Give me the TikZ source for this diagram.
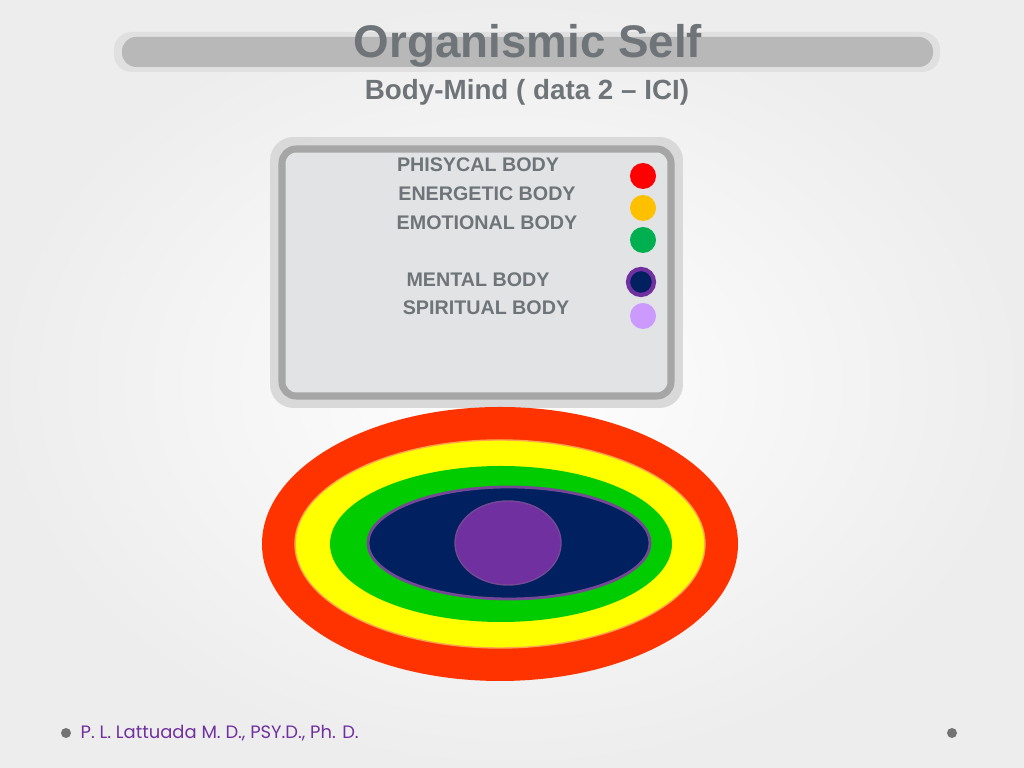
\documentclass[tikz,border=0pt]{standalone}
\usepackage{fontspec}
\setmainfont{Liberation Sans}
\newfontfamily\footfont{Poppins}
\usetikzlibrary{positioning}
\definecolor{titlegray}{HTML}{6E7478}
\definecolor{boxfill}{HTML}{E1E3E5}
\definecolor{layerred}{HTML}{FF3300}
\definecolor{layeryellow}{HTML}{FFFF00}
\definecolor{layergreen}{HTML}{00CC00}
\definecolor{layernavy}{HTML}{002060}
\definecolor{layerpurple}{HTML}{7030A0}
\definecolor{dotorange}{HTML}{FFC000}
\definecolor{dotgreen}{HTML}{00B050}
\definecolor{dotlilac}{HTML}{CC99FF}
\tikzset{
  label/.style={font=\bfseries\fontsize{5.6}{6.5}\selectfont, text=titlegray},
  dot/.style={circle, minimum size=7.4pt, inner sep=0pt},
}
\begin{document}
\begin{tikzpicture}[x=0.01cm, y=-0.01cm]
\useasboundingbox (0,0) rectangle (1024,768);
\shade[inner color=white, outer color=black!7] (0,0) rectangle (1024,768);
% title bar
\fill[black!12, rounded corners=5pt] (114,32) rectangle (940,72);
\fill[black!28, rounded corners=4pt] (122,37) rectangle (933,67);
\node (title) at (528,46) {\bfseries\fontsize{13}{15}\selectfont\textcolor{titlegray}{Organismic Self}};
\node (sub) at (527,92) {\bfseries\fontsize{7.9}{9}\selectfont\textcolor{titlegray}{Body-Mind ( data 2 -- ICI)}};
% legend box
\draw[black!15, line width=3.4pt, rounded corners=5pt, fill=boxfill] (276,143) rectangle (677,402);
\draw[black!35, line width=2pt, rounded corners=4pt] (282,149) rectangle (671,396);
\node[label] (phys) at (478,165) {PHISYCAL BODY};
\node[label] (ener) at (487,194) {ENERGETIC BODY};
\node[label] (emot) at (487,223) {EMOTIONAL BODY};
\node[label] (ment) at (478,280) {MENTAL BODY};
\node[label] (spir) at (486,308) {SPIRITUAL BODY};
\node[dot, fill=red] (d1) at (643,176) {};
\node[dot, fill=dotorange] (d2) at (643,208) {};
\node[dot, fill=dotgreen] (d3) at (643,240) {};
\node[dot, fill=layernavy, draw=layerpurple, line width=1.2pt] (d4) at (641,282) {};
\node[dot, fill=dotlilac] (d5) at (643,316) {};
% layers
\fill[layerred] (500,544) ellipse [x radius=238, y radius=137];
\filldraw[fill=layeryellow, draw=orange!70] (500,544) ellipse [x radius=205, y radius=104];
\fill[layergreen] (501,544) ellipse [x radius=171, y radius=78];
\filldraw[fill=layernavy, draw=layerpurple!70!gray, line width=0.8pt] (509,543) ellipse [x radius=141, y radius=56];
\filldraw[fill=layerpurple, draw=layerpurple!70!gray] (508,543) ellipse [x radius=53, y radius=42];
% footer
\fill[black!55] (66,733) circle (5);
\fill[black!55] (952,733) circle (5);
\node[anchor=west, text=layerpurple, inner sep=0pt] (foot) at (80,733) {\footfont\fontsize{5.1}{6}\selectfont P. L. Lattuada M. D., PSY.D., Ph. D.};
\end{tikzpicture}
\end{document}
